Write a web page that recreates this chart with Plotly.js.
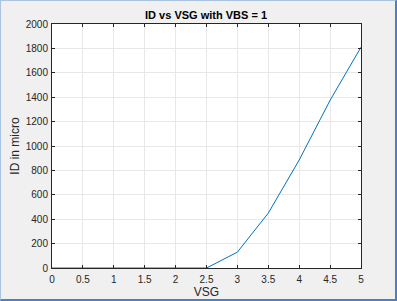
<!DOCTYPE html>
<html><head><meta charset="utf-8">
<script src="https://cdn.plot.ly/plotly-3.0.1.min.js"></script>
<style>
html,body{margin:0;padding:0;background:#f0f0f0;}
#wrap{position:absolute;left:0;top:0;width:397px;height:301px;box-sizing:border-box;border-left:1px solid #a9c3e3;border-top:1px solid #a9c3e3;border-right:2px solid #4f7fbf;border-bottom:2px solid #4f7fbf;overflow:hidden;}
#plot{position:absolute;left:-1px;top:-1px;width:397px;height:301px;}
</style></head>
<body><div id="wrap"><div id="plot"></div></div>
<script>
const vsg = [0, 0.5, 1, 1.5, 2, 2.5, 3, 3.5, 4, 4.5, 5];
const idMicro = [0, 0, 0, 0, 0, 0, 130, 450, 885, 1375, 1810];
const xTicks = [0, 0.5, 1, 1.5, 2, 2.5, 3, 3.5, 4, 4.5, 5];
const xTickLabels = ['0', '0.5', '1', '1.5', '2', '2.5', '3', '3.5', '4', '4.5', '5'];
const yTicks = [0, 200, 400, 600, 800, 1000, 1200, 1400, 1600, 1800, 2000];

const axisCommon = {
  showline: true, mirror: 'ticks', linecolor: '#262626', linewidth: 1,
  ticks: 'inside', ticklen: 3, tickcolor: '#262626',
  showgrid: true, gridcolor: '#e8e8e8', gridwidth: 1,
  zeroline: false, tickfont: {family: 'Liberation Sans, Arial, sans-serif', size: 10, color: '#262626'}
};

Plotly.newPlot('plot', [{
  x: vsg, y: idMicro, type: 'scatter', mode: 'lines',
  line: {color: '#0072BD', width: 1}
}], {
  width: 397, height: 301,
  paper_bgcolor: '#f0f0f0', plot_bgcolor: '#ffffff',
  margin: {l: 52, r: 36, t: 24, b: 33},
  showlegend: false,
  title: {text: '<b>ID vs VSG with VBS = 1</b>', x: 0.519, xanchor: 'center', y: 0.95, yanchor: 'middle',
    font: {family: 'Liberation Sans, Arial, sans-serif', size: 11, color: '#000'}},
  xaxis: Object.assign({}, axisCommon, {
    range: [0, 5], tickvals: xTicks, ticktext: xTickLabels, ticklabelstandoff: 2,
    title: {text: 'VSG', standoff: 2, font: {family: 'Liberation Sans, Arial, sans-serif', size: 12, color: '#262626'}}
  }),
  yaxis: Object.assign({}, axisCommon, {
    range: [0, 2000], tickvals: yTicks, ticklabelstandoff: 1,
    title: {text: 'ID in micro', standoff: 3, font: {family: 'Liberation Sans, Arial, sans-serif', size: 12, color: '#262626'}}
  })
}, {displayModeBar: false, staticPlot: true});
</script></body></html>
